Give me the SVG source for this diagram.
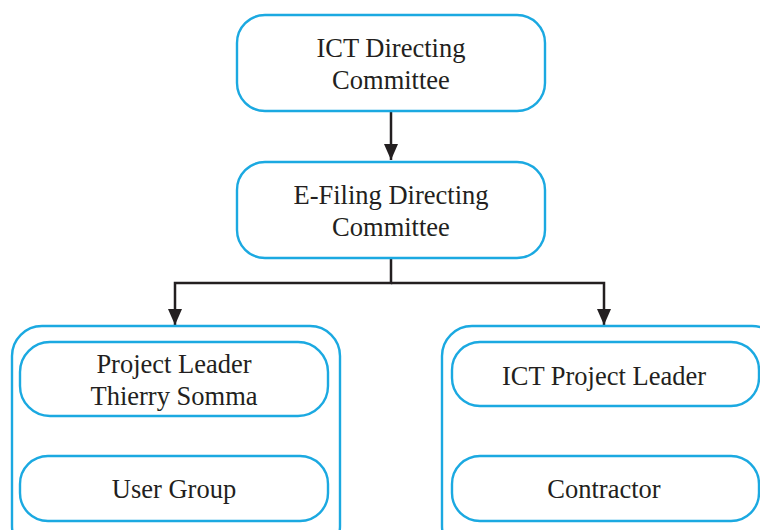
<svg xmlns="http://www.w3.org/2000/svg" width="760" height="530" viewBox="0 0 760 530">
<defs>
<style>
.box{fill:#fff;stroke:#1ba9e1;stroke-width:2.4}
.t{font-family:'Liberation Serif','Times New Roman',serif;font-size:26.5px;fill:#231f20;text-anchor:middle}
.c{fill:none;stroke:#231f20;stroke-width:2.5}
</style>
<marker id="ah" markerWidth="16" markerHeight="14" refX="16" refY="7" orient="auto" markerUnits="userSpaceOnUse" viewBox="0 0 16 14">
<path d="M0,0 L16,7 L0,14 Z" fill="#231f20"/>
</marker>
</defs>
<rect width="760" height="530" fill="#fff"/>
<g id="connectors">
<path class="c" d="M391,111 V160" marker-end="url(#ah)"/>
<path class="c" d="M391,258 V283 H175 V325" marker-end="url(#ah)"/>
<path class="c" d="M391,283 H604 V325" marker-end="url(#ah)"/>
</g>
<g id="ict-directing">
<rect class="box" x="237" y="15" width="308" height="96" rx="28"/>
<text class="t" x="391" y="57">ICT Directing</text>
<text class="t" x="391" y="89">Committee</text>
</g>
<g id="efiling-directing">
<rect class="box" x="237" y="162" width="308" height="96" rx="28"/>
<text class="t" x="391" y="204">E-Filing Directing</text>
<text class="t" x="391" y="236">Committee</text>
</g>
<g id="left-group">
<rect class="box" x="12" y="326" width="328" height="230" rx="30"/>
</g>
<g id="project-leader">
<rect class="box" x="20" y="342" width="308" height="74" rx="30"/>
<text class="t" x="174" y="373">Project Leader</text>
<text class="t" x="174" y="405">Thierry Somma</text>
</g>
<g id="user-group">
<rect class="box" x="20" y="456" width="308" height="65" rx="28"/>
<text class="t" x="174" y="498">User Group</text>
</g>
<g id="right-group">
<rect class="box" x="442" y="326" width="340" height="230" rx="30"/>
</g>
<g id="ict-project-leader">
<rect class="box" x="452" y="342" width="307" height="64" rx="28"/>
<text class="t" x="604" y="385">ICT Project Leader</text>
</g>
<g id="contractor">
<rect class="box" x="452" y="456" width="307" height="65" rx="28"/>
<text class="t" x="604" y="498">Contractor</text>
</g>
</svg>
